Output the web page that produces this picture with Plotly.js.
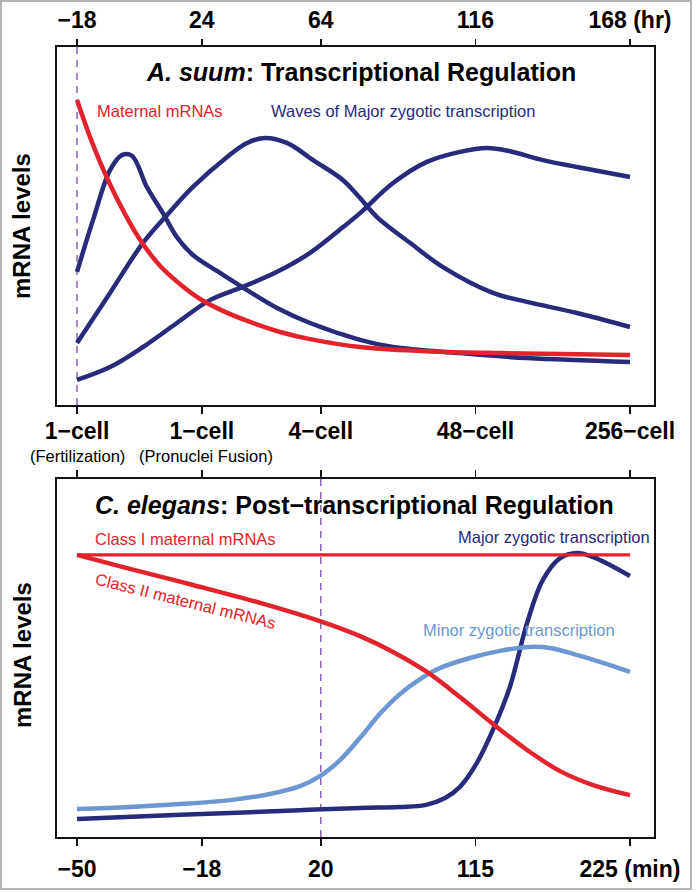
<!DOCTYPE html>
<html>
<head>
<meta charset="utf-8">
<script src="https://cdn.plot.ly/plotly-3.0.1.min.js"></script>
<style>html,body{margin:0;padding:0;background:#fff;}#chart{width:696px;height:892px;}</style>
</head>
<body>
<div id="chart"></div>
<script>
// ---------- DATA ----------
// Top panel (A. suum): x in hours, y = relative mRNA level
const hrTicks = [-18, 24, 64, 116, 168];
const hrLabels = ['\u221218', '24', '64', '116', '168 (hr)'];
const stageLabels = ['1\u2212cell', '1\u2212cell', '4\u2212cell', '48\u2212cell', '256\u2212cell'];
const stageSub = ['(Fertilization)', '(Pronuclei Fusion)'];
const fertilizationHr = -18;

const maternalX = [-18, -13.0, -7.9, -1.9, 3.9, 9.9, 16.6, 23.4, 31.8, 40.2, 50.3, 60.4, 77.2, 97.4, 124.3, 168];
const maternalY = [85.2, 73.5, 63.4, 53.4, 45.3, 38.9, 33.8, 29.6, 26.0, 23.2, 20.4, 18.4, 16.2, 15.1, 14.5, 14.0];

const wave1X = [-18, -12.6, -6.9, -2.9, 0.5, 5.5, 10.9, 15.6, 21, 30.1, 39.2, 49.3, 60.4, 77.2, 88.3, 110.8, 133.4, 168];
const wave1Y = [37.2, 51.7, 65.6, 69.8, 69.6, 60.9, 53.6, 46.9, 41.9, 36.9, 32.1, 27.1, 22.9, 18.2, 16.2, 14.5, 13.1, 12.0];

const wave2X = [-18, -6.9, 4.2, 12.3, 21, 32.5, 39.2, 45.2, 52.6, 61.4, 71.5, 77.2, 82.9, 94, 105.1, 121.9, 133.4, 150.2, 168];
const wave2Y = [17.3, 31.3, 45.3, 53.1, 60.9, 69.3, 73.2, 74.6, 73.2, 68.4, 62.8, 57.8, 52.5, 45.3, 38.5, 31.3, 28.8, 25.7, 21.8];

const wave3X = [-18, -6.9, 4.2, 15.6, 26.7, 37.8, 49.3, 60.4, 71.5, 77.2, 88.3, 99.7, 110.8, 119.9, 127.6, 138.7, 150.2, 168];
const wave3Y = [7.0, 10.6, 16.2, 22.9, 29.3, 33.0, 37.2, 42.5, 49.7, 53.6, 62.0, 67.9, 70.7, 71.8, 70.9, 68.4, 66.5, 63.7];

// Bottom panel (C. elegans): same tick positions, labelled in minutes
const minLabels = ['\u221250', '\u221218', '20', '115', '225 (min)'];
const minTickPos = [-18, 24, 64, 116, 168];
const fourCellPos = 64;

const classIX = [-18, 168];
const classIY = [78.8, 78.8];

const classIIX = [-18, -1.2, 21.0, 43.6, 63.7, 77.2, 88.3, 99.7, 110.8, 121.9, 133.4, 144.5, 155.6, 168];
const classIIY = [78.8, 75.1, 70.4, 65.4, 60.3, 56.1, 51.7, 46.1, 39.1, 31.6, 24.3, 18.4, 14.5, 11.7];

const minorX = [-18, -0.2, 16.6, 33.5, 46.9, 57.0, 63.7, 70.5, 77.2, 83.9, 90.6, 97.4, 104.1, 114.2, 124.3, 134.4, 141.1, 151.2, 161.3, 168];
const minorY = [7.8, 8.4, 9.2, 10.3, 12.0, 14.2, 17.0, 21.5, 27.7, 34.4, 39.9, 44.1, 47.2, 50.0, 52.0, 53.1, 52.8, 50.6, 48.0, 46.1];

const majorX = [-18, 6.6, 33.5, 57.0, 77.2, 90.6, 99.1, 105.8, 110.8, 116.5, 121.9, 127.6, 133.4, 138.7, 144.5, 150.2, 155.6, 161.3, 168];
const majorY = [5.0, 5.9, 6.7, 7.5, 8.1, 8.4, 8.9, 10.9, 14.0, 20.7, 29.9, 41.9, 59.8, 71.8, 77.9, 79.3, 78.2, 76.0, 72.9];

// ---------- STYLE ----------
const RED = '#e3232b', NAVY = '#272b7a', LIGHT = '#6d97d0', PURPLE = '#8a63b5';
const FONT = 'Liberation Sans, Arial, Helvetica, sans-serif';
const W = 696, H = 892;
const P = x => x / W, Q = y => 1 - y / H;
const XR = [-24.73, 176.08];

function line(x, y, color, width, xa, ya) {
  return {x: x, y: y, type: 'scatter', mode: 'lines', xaxis: xa, yaxis: ya,
    line: {color: color, width: width, shape: 'spline', smoothing: 1}, hoverinfo: 'skip', showlegend: false};
}

const data = [
  line(wave3X, wave3Y, NAVY, 4.5, 'x', 'y'),
  line(wave2X, wave2Y, NAVY, 4.5, 'x', 'y'),
  line(wave1X, wave1Y, NAVY, 4.5, 'x', 'y'),
  line(maternalX, maternalY, RED, 4.5, 'x', 'y'),
  line(majorX, majorY, NAVY, 4.5, 'x2', 'y2'),
  line(minorX, minorY, LIGHT, 4.5, 'x2', 'y2'),
  line(classIIX, classIIY, RED, 4.5, 'x2', 'y2'),
  line(classIX, classIY, RED, 3.2, 'x2', 'y2'),
  {x: hrTicks, y: hrTicks.map(() => null), xaxis: 'x3', yaxis: 'y', type: 'scatter', mode: 'lines', showlegend: false, hoverinfo: 'skip'}
];

const tickFont = {family: FONT, size: 23, color: '#000', weight: 'bold'};
const axBase = {range: XR, showgrid: false, zeroline: false, ticks: 'outside', ticklen: 7, tickwidth: 1.6,
  tickcolor: '#111', linecolor: '#111', linewidth: 1.6, tickfont: tickFont, fixedrange: true};
const yBase = {range: [0, 100], showgrid: false, zeroline: false, showticklabels: false, ticks: '',
  showline: true, mirror: true, linecolor: '#111', linewidth: 1.6, fixedrange: true};

const layout = {
  width: W, height: H,
  margin: {l: 0, r: 0, t: 0, b: 0},
  paper_bgcolor: '#fff', plot_bgcolor: '#fff',
  font: {family: FONT, color: '#000'},
  xaxis: Object.assign({}, axBase, {domain: [P(57), P(654)], anchor: 'y', side: 'bottom',
    tickmode: 'array', tickvals: hrTicks, ticktext: stageLabels, showline: true, mirror: true, ticklabelstandoff: -2}),
  xaxis3: Object.assign({}, axBase, {domain: [P(57), P(654)], anchor: 'y', overlaying: 'x', side: 'top',
    tickmode: 'array', tickvals: hrTicks, ticktext: hrLabels, showline: false, ticklabelstandoff: 2}),
  yaxis: Object.assign({}, yBase, {domain: [Q(405), Q(47)], anchor: 'x'}),
  xaxis2: Object.assign({}, axBase, {domain: [P(57), P(654)], anchor: 'y2', side: 'bottom',
    tickmode: 'array', tickvals: minTickPos, ticktext: minLabels, showline: true, mirror: 'ticks', ticklabelstandoff: 4}),
  yaxis2: Object.assign({}, yBase, {domain: [Q(837), Q(479)], anchor: 'x2'}),
  shapes: [
    {type: 'line', xref: 'x', yref: 'y domain', x0: fertilizationHr, x1: fertilizationHr, y0: 0, y1: 1,
      line: {color: PURPLE, width: 1.5, dash: '7px,6px'}, layer: 'below'},
    {type: 'line', xref: 'x2', yref: 'y2 domain', x0: fourCellPos, x1: fourCellPos, y0: 0, y1: 1,
      line: {color: PURPLE, width: 1.5, dash: '7px,6px'}, layer: 'below'},
    {type: 'rect', xref: 'paper', yref: 'paper', x0: P(1), x1: P(691), y0: Q(889), y1: Q(1),
      line: {color: '#b5b5b5', width: 2}, fillcolor: 'rgba(0,0,0,0)'}
  ],
  annotations: [
    {text: '<b><i>A. suum</i>: Transcriptional Regulation</b>', x: P(361), y: Q(72), font: {size: 25}},
    {text: 'Maternal mRNAs', x: P(160), y: Q(111), font: {size: 16.5, color: RED}},
    {text: 'Waves of Major zygotic transcription', x: P(403), y: Q(111), font: {size: 16.5, color: NAVY}},
    {text: '<b>mRNA levels</b>', x: P(22), y: Q(226), textangle: -90, font: {size: 24}},
    {text: stageSub[0], x: P(77), y: Q(456), font: {size: 16.5}},
    {text: stageSub[1], x: P(206), y: Q(456), font: {size: 16.5}},
    {text: '<b><i>C. elegans</i>: Post\u2212transcriptional Regulation</b>', x: P(354), y: Q(505), font: {size: 25}},
    {text: 'Class I maternal mRNAs', x: P(186), y: Q(539), font: {size: 16.5, color: RED}},
    {text: 'Class II maternal mRNAs', x: P(186), y: Q(601), textangle: 14, font: {size: 16.5, color: RED}},
    {text: 'Major zygotic transcription', x: P(554), y: Q(537), font: {size: 16.5, color: NAVY}},
    {text: 'Minor zygotic transcription', x: P(519), y: Q(630), font: {size: 16.5, color: LIGHT}},
    {text: '<b>mRNA levels</b>', x: P(22), y: Q(655), textangle: -90, font: {size: 24}}
  ].map(a => Object.assign({xref: 'paper', yref: 'paper', showarrow: false, xanchor: 'center', yanchor: 'middle'}, a))
};

Plotly.newPlot('chart', data, layout, {staticPlot: true, displayModeBar: false});
</script>
</body>
</html>
